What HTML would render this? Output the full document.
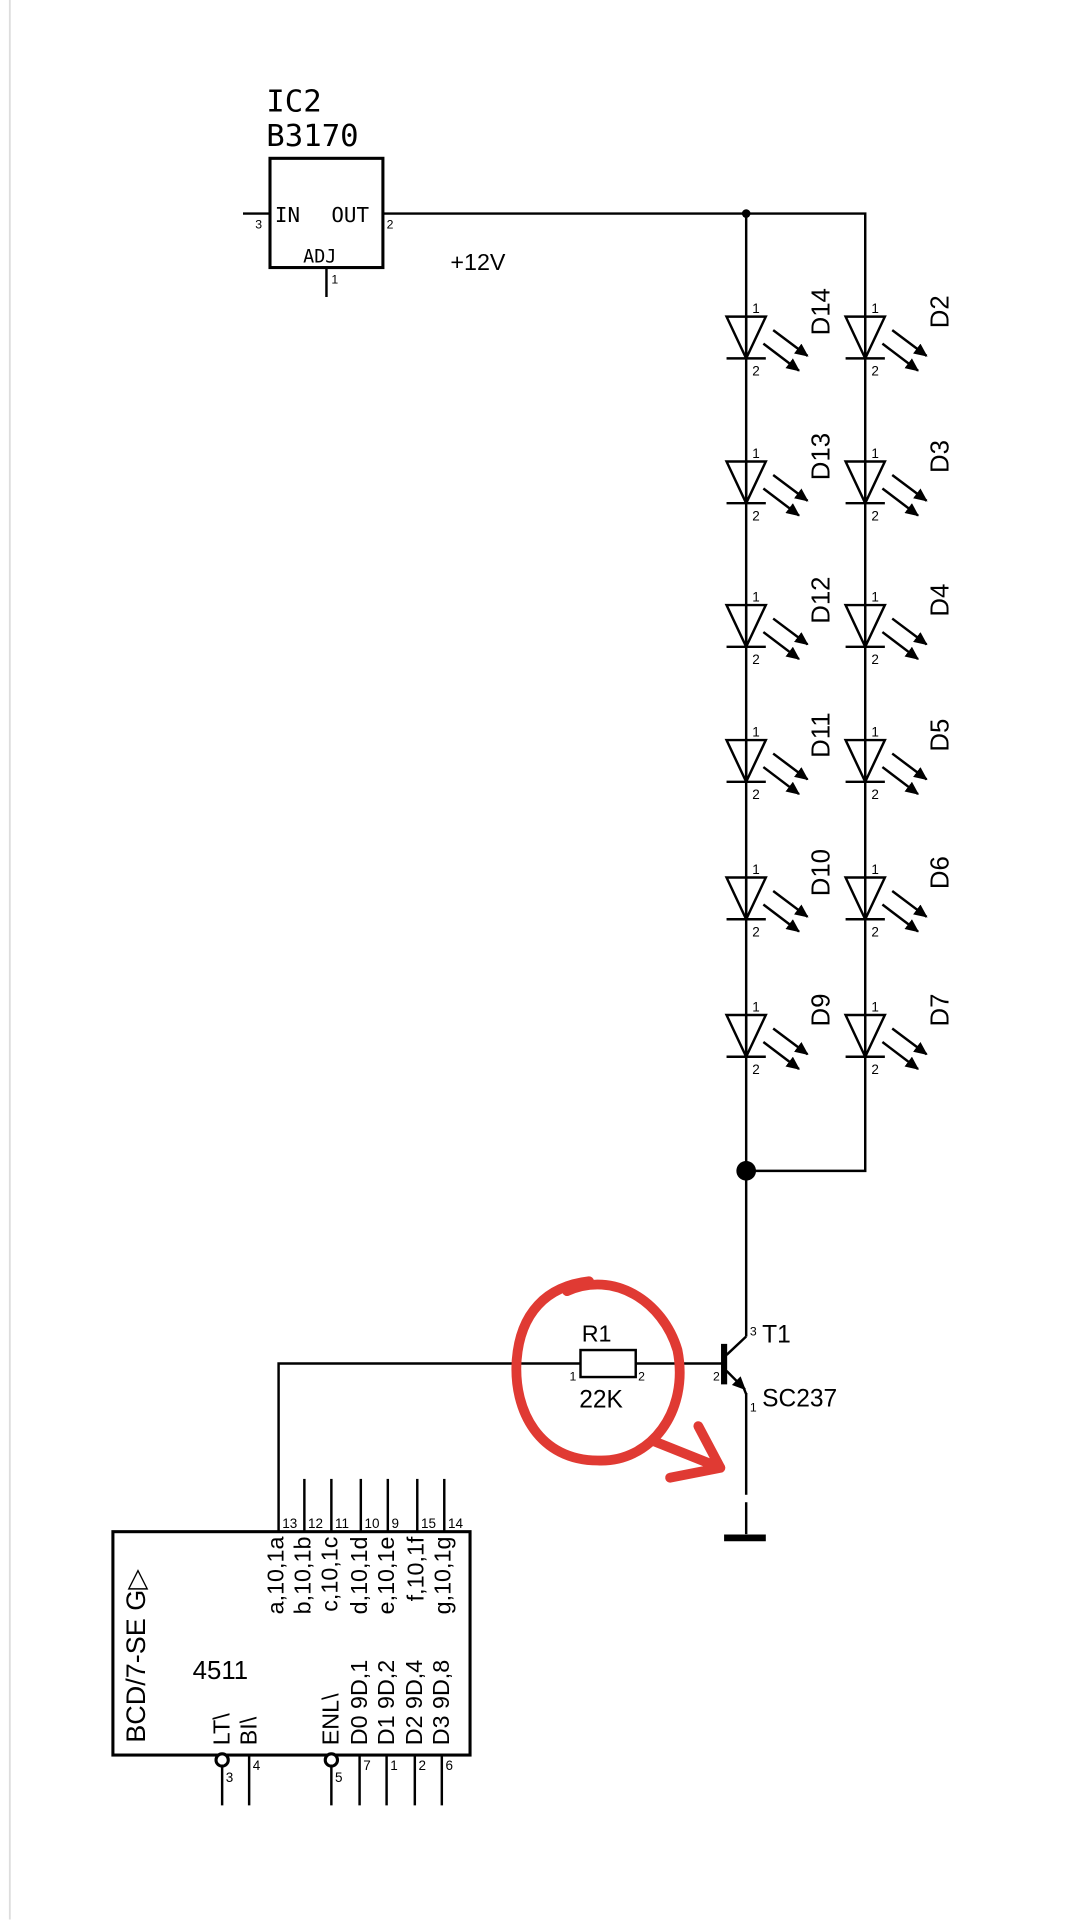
<!DOCTYPE html>
<html><head><meta charset="utf-8"><style>
html,body{margin:0;padding:0;background:#fff;}
svg{display:block;}
text{font-family:"Liberation Sans",sans-serif;fill:#000;}
.m{font-family:"DejaVu Sans Mono","Liberation Mono",monospace;font-weight:300;}
</style></head><body>
<svg width="1080" height="1920" viewBox="0 0 880 1564.4" preserveAspectRatio="none" xmlns="http://www.w3.org/2000/svg">
<defs>
<marker id="ah" markerWidth="11" markerHeight="10" refX="10" refY="5" orient="auto" markerUnits="userSpaceOnUse">
<path d="M0,0 L11,5 L0,10 z" fill="#000"/></marker>
<g id="led">
<line x1="0" y1="0" x2="0" y2="34" stroke="#000" stroke-width="2"/>
<path d="M-16,0 L16,0 L0,34 Z" fill="none" stroke="#000" stroke-width="2"/>
<line x1="-16" y1="34" x2="16" y2="34" stroke="#000" stroke-width="2"/>
<line x1="22" y1="11" x2="50" y2="32" stroke="#000" stroke-width="2" marker-end="url(#ah)"/>
<line x1="14" y1="22" x2="43" y2="44" stroke="#000" stroke-width="2" marker-end="url(#ah)"/>
<text x="5" y="-3" font-size="11">1</text>
<text x="5" y="48" font-size="11">2</text>
</g>
</defs>
<line x1="8" y1="0" x2="8" y2="1564" stroke="#ddd" stroke-width="1.5"/>

<!-- IC2 -->
<text class="m" x="217" y="91" font-size="25">IC2</text>
<text class="m" x="217" y="119" font-size="25">B3170</text>
<rect x="220" y="129" width="92" height="89" fill="none" stroke="#000" stroke-width="2.5"/>
<line x1="198" y1="174" x2="220" y2="174" stroke="#000" stroke-width="2"/>
<text x="208" y="186" font-size="10">3</text>
<text class="m" x="224" y="181" font-size="17">IN</text>
<text class="m" x="270" y="181" font-size="17">OUT</text>
<text x="315" y="186" font-size="10">2</text>
<text class="m" x="247" y="214" font-size="15">ADJ</text>
<line x1="266" y1="218" x2="266" y2="242" stroke="#000" stroke-width="2"/>
<text x="270" y="231" font-size="10">1</text>
<text x="367" y="220" font-size="19">+12V</text>

<!-- rails -->
<polyline points="312,174 705,174 705,954 608,954" fill="none" stroke="#000" stroke-width="2"/>
<line x1="608" y1="174" x2="608" y2="1218" stroke="#000" stroke-width="2"/>
<circle cx="608" cy="174" r="3.5" fill="#000"/>
<circle cx="608" cy="954" r="8" fill="#000"/>

<!-- LEDs -->
<use href="#led" x="608" y="258"/><use href="#led" x="705" y="258"/>
<use href="#led" x="608" y="376"/><use href="#led" x="705" y="376"/>
<use href="#led" x="608" y="493"/><use href="#led" x="705" y="493"/>
<use href="#led" x="608" y="603"/><use href="#led" x="705" y="603"/>
<use href="#led" x="608" y="715"/><use href="#led" x="705" y="715"/>
<use href="#led" x="608" y="827"/><use href="#led" x="705" y="827"/>
<g font-size="21" text-anchor="middle">
<text transform="translate(676,254) rotate(-90)">D14</text>
<text transform="translate(773,254) rotate(-90)">D2</text>
<text transform="translate(676,372) rotate(-90)">D13</text>
<text transform="translate(773,372) rotate(-90)">D3</text>
<text transform="translate(676,489) rotate(-90)">D12</text>
<text transform="translate(773,489) rotate(-90)">D4</text>
<text transform="translate(676,599) rotate(-90)">D11</text>
<text transform="translate(773,599) rotate(-90)">D5</text>
<text transform="translate(676,711) rotate(-90)">D10</text>
<text transform="translate(773,711) rotate(-90)">D6</text>
<text transform="translate(676,823) rotate(-90)">D9</text>
<text transform="translate(773,823) rotate(-90)">D7</text>
</g>

<!-- transistor -->
<rect x="606" y="1089" width="4" height="46" fill="#fff"/>
<line x1="590" y1="1095" x2="590" y2="1128" stroke="#000" stroke-width="5"/>
<line x1="592" y1="1104" x2="608" y2="1089" stroke="#000" stroke-width="2"/>
<line x1="592" y1="1117" x2="607" y2="1132" stroke="#000" stroke-width="2" marker-end="url(#ah)"/>
<line x1="606" y1="1131" x2="608" y2="1136" stroke="#000" stroke-width="2"/>
<text x="611" y="1088" font-size="10">3</text>
<text x="621" y="1094" font-size="20">T1</text>
<text x="581" y="1125" font-size="10">2</text>
<text x="611" y="1150" font-size="10">1</text>
<text x="621" y="1146" font-size="20">SC237</text>
<rect x="606" y="1218" width="4" height="6" fill="#fff"/>
<line x1="608" y1="1224" x2="608" y2="1250" stroke="#000" stroke-width="2"/>
<line x1="590" y1="1253" x2="624" y2="1253" stroke="#000" stroke-width="5.5"/>

<!-- resistor + base wire -->
<polyline points="227,1248 227,1111 473,1111" fill="none" stroke="#000" stroke-width="2"/>
<line x1="518" y1="1111" x2="590" y2="1111" stroke="#000" stroke-width="2"/>
<rect x="473" y="1100" width="45" height="22" fill="none" stroke="#000" stroke-width="2"/>
<text x="474" y="1093" font-size="19">R1</text>
<text x="472" y="1147" font-size="20">22K</text>
<text x="464" y="1125" font-size="10">1</text>
<text x="520" y="1125" font-size="10">2</text>

<!-- red annotation -->
<path d="M462,1052 C500,1035 540,1060 552,1100 C562,1150 530,1192 487,1190 C440,1190 418,1150 421,1108 C424,1070 445,1048 480,1044" fill="none" stroke="#e03a33" stroke-width="8" stroke-linecap="round"/>
<path d="M532,1174 L587,1196 M569,1162 L587,1196 L546,1204" fill="none" stroke="#e03a33" stroke-width="8" stroke-linecap="round" stroke-linejoin="round"/>

<!-- 4511 -->
<rect x="92" y="1248" width="291" height="182" fill="none" stroke="#000" stroke-width="2.5"/>
<g stroke="#000" stroke-width="2">
<line x1="248" y1="1205" x2="248" y2="1248"/><line x1="270" y1="1205" x2="270" y2="1248"/>
<line x1="294" y1="1205" x2="294" y2="1248"/><line x1="316" y1="1205" x2="316" y2="1248"/>
<line x1="340" y1="1205" x2="340" y2="1248"/><line x1="362" y1="1205" x2="362" y2="1248"/>
<line x1="181" y1="1438" x2="181" y2="1471"/><line x1="203" y1="1430" x2="203" y2="1471"/>
<line x1="270" y1="1438" x2="270" y2="1471"/><line x1="293" y1="1430" x2="293" y2="1471"/>
<line x1="315" y1="1430" x2="315" y2="1471"/><line x1="338" y1="1430" x2="338" y2="1471"/>
<line x1="360" y1="1430" x2="360" y2="1471"/>
</g>
<circle cx="181" cy="1434" r="5" fill="#fff" stroke="#000" stroke-width="2.5"/>
<circle cx="270" cy="1434" r="5" fill="#fff" stroke="#000" stroke-width="2.5"/>
<g font-size="11">
<text x="230" y="1245">13</text><text x="251" y="1245">12</text><text x="273" y="1245">11</text>
<text x="297" y="1245">10</text><text x="319" y="1245">9</text><text x="343" y="1245">15</text><text x="365" y="1245">14</text>
<text x="184" y="1452">3</text><text x="206" y="1442">4</text><text x="273" y="1452">5</text>
<text x="296" y="1442">7</text><text x="318" y="1442">1</text><text x="341" y="1442">2</text><text x="363" y="1442">6</text>
</g>
<g font-size="19" text-anchor="end">
<text transform="translate(231,1252) rotate(-90)">a,10,1a</text>
<text transform="translate(253,1252) rotate(-90)">b,10,1b</text>
<text transform="translate(275,1252) rotate(-90)">c,10,1c</text>
<text transform="translate(299,1252) rotate(-90)">d,10,1d</text>
<text transform="translate(321,1252) rotate(-90)">e,10,1e</text>
<text transform="translate(345,1252) rotate(-90)">f,10,1f</text>
<text transform="translate(367,1252) rotate(-90)">g,10,1g</text>
</g>
<g font-size="19">
<text transform="translate(187,1422) rotate(-90)">LT\</text>
<text transform="translate(209,1422) rotate(-90)">BI\</text>
<text transform="translate(276,1422) rotate(-90)">ENL\</text>
<text transform="translate(299,1422) rotate(-90)">D0 9D,1</text>
<text transform="translate(321,1422) rotate(-90)">D1 9D,2</text>
<text transform="translate(344,1422) rotate(-90)">D2 9D,4</text>
<text transform="translate(366,1422) rotate(-90)">D3 9D,8</text>
<text transform="translate(118,1420) rotate(-90)" font-size="22">BCD/7-SE  G▷</text>
</g>
<text x="157" y="1368" font-size="21">4511</text>
</svg>
</body></html>
